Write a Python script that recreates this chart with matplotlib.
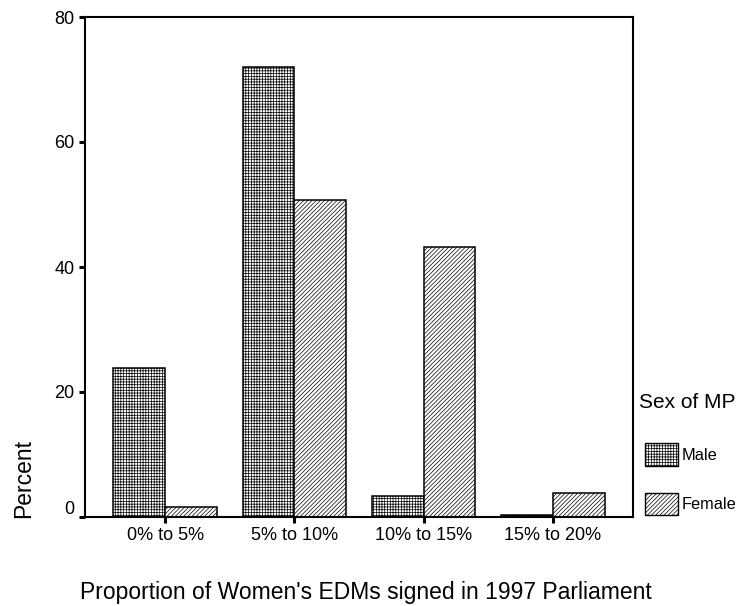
import matplotlib
matplotlib.use('Agg')
from matplotlib import pyplot as plt
from matplotlib.patches import Patch
from matplotlib.transforms import ScaledTranslation
import numpy as np

categories = ['0% to 5%', '5% to 10%', '10% to 15%', '15% to 20%']
male = [23.8, 72.0, 3.4, 0.4]
female = [1.6, 50.7, 43.2, 3.8]
yticks = [0, 20, 40, 60, 80]

plt.rcParams['font.family'] = ['Liberation Sans', 'DejaVu Sans']
plt.rcParams['hatch.linewidth'] = 0.5

male_hatch = '++++++'
female_hatch = '////////'

fig = plt.figure(figsize=(7.43, 6.06), dpi=100)
ax = fig.add_axes([85/743, 1-517/606, (633-85)/743, (517-17)/606])

x = np.arange(len(categories))
w = 0.40
ax.bar(x - w/2, male, w, facecolor='white', edgecolor='black', linewidth=1.1, hatch=male_hatch)
ax.bar(x + w/2, female, w, facecolor='white', edgecolor='black', linewidth=1.1, hatch=female_hatch)

ax.set_xlim(-0.62, 3.62)
ax.set_ylim(0, 80)
ax.set_xticks(x)
ax.set_xticklabels(categories, fontsize=13)
ax.set_yticks(yticks)
ax.set_yticklabels([str(v) for v in yticks], fontsize=13)
ax.tick_params(axis='both', direction='out', length=4.5, width=2.2, pad=3)
for s in ax.spines.values():
    s.set_linewidth(1.5)

# SPSS puts the "0" label a bit above its tick
lab0 = ax.yaxis.get_major_ticks()[0].label1
lab0.set_transform(lab0.get_transform() + ScaledTranslation(0, 0.10, fig.dpi_scale_trans))

fig.text(366/743, 1-592/606, "Proportion of Women's EDMs signed in 1997 Parliament",
         fontsize=16.5, ha='center', va='center')
fig.text(24/743, 1-479/606, 'Percent', fontsize=16.5, rotation=90, ha='center', va='center')

# legend
fig.text(639/743, 1-402/606, 'Sex of MP', fontsize=15, ha='left', va='center')
handles = [Patch(facecolor='white', edgecolor='black', hatch=male_hatch, label='Male'),
           Patch(facecolor='white', edgecolor='black', hatch=female_hatch, label='Female')]
fig.legend(handles=handles, loc='upper left', bbox_to_anchor=(645/743, 1-443/606),
           fontsize=11.8, frameon=False,
           handlelength=2.0, handleheight=1.75, handletextpad=0.25,
           labelspacing=1.65, borderpad=0, borderaxespad=0)

fig.savefig('out.png', dpi=100)
